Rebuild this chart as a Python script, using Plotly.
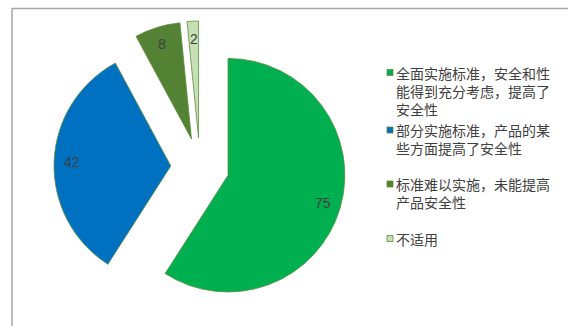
import math
import plotly.graph_objects as go

# --- data -------------------------------------------------------------
categories = [
    "全面实施标准，安全和性能得到充分考虑，提高了安全性",
    "部分实施标准，产品的某些方面提高了安全性",
    "标准难以实施，未能提高产品安全性",
    "不适用",
]
legend_lines = [
    ["全面实施标准，安全和性", "能得到充分考虑，提高了", "安全性"],
    ["部分实施标准，产品的某", "些方面提高了安全性"],
    ["标准难以实施，未能提高", "产品安全性"],
    ["不适用"],
]
values = [75, 42, 8, 2]
colors = ["#00B050", "#0070C0", "#548235", "#C5E0B4"]

# --- page geometry (pixels) -------------------------------------------
W, H = 568, 326
PULL = 0.25
CX, CY = 200, 167          # pie centre
BOX = 292                  # square box the pie (with pulls) must fit
R = BOX / 2 / (1 + PULL)   # slice radius as plotly computes it
TEXT = "#404040"
FS = 14
LINE_H = FS * 1.3          # plotly's multi-line spacing

fig = go.Figure()
fig.add_trace(go.Pie(
    labels=categories,
    values=values,
    sort=False,
    direction="clockwise",
    rotation=0,
    pull=[PULL] * len(values),
    marker=dict(colors=colors, line=dict(color="#5E8E3E", width=0.8)),
    textinfo="none",
    hoverinfo="label+value",
    showlegend=False,
    domain=dict(x=[(CX - 160) / W, (CX + 160) / W],
                y=[(H - CY - BOX / 2) / H, (H - CY + BOX / 2) / H]),
))

annotations = []
shapes = []

# value labels near the outer end of each slice
total = sum(values)
cum = 0
for v in values:
    mid = (cum + v / 2) / total * 2 * math.pi
    cum += v
    d = (PULL + 0.85) * R
    px = CX + d * math.sin(mid)
    py = CY - d * math.cos(mid)
    annotations.append(dict(
        x=px / W, y=1 - py / H, xref="paper", yref="paper",
        text=str(v), showarrow=False, xanchor="center", yanchor="middle",
        font=dict(family="Liberation Sans, Arial", size=14, color=TEXT),
    ))

# legend: small squares with wrapped Chinese labels
first_line_y = [72.5, 130, 184, 238.5]
for lines, col, y0 in zip(legend_lines, colors, first_line_y):
    shapes.append(dict(
        type="rect", xref="paper", yref="paper",
        x0=387 / W, x1=393 / W, y0=1 - (y0 - 3) / H, y1=1 - (y0 + 3) / H,
        fillcolor=col, line=dict(color="#5E8E3E", width=0.8),
    ))
    yc = y0 + (len(lines) - 1) * LINE_H / 2
    annotations.append(dict(
        x=394 / W, y=1 - yc / H, xref="paper", yref="paper",
        text="<br>".join(lines), showarrow=False, align="left",
        xanchor="left", yanchor="middle",
        font=dict(family="Noto Sans CJK SC", size=FS, color=TEXT),
    ))

# chart frame
shapes.append(dict(
    type="rect", xref="paper", yref="paper",
    x0=12 / W, x1=1.2, y0=-0.2, y1=1 - 8.5 / H,
    line=dict(color="#A6A6A6", width=1.5), fillcolor="rgba(0,0,0,0)",
    layer="below",
))

fig.update_layout(
    width=W, height=H,
    margin=dict(l=0, r=0, t=0, b=0),
    paper_bgcolor="white", plot_bgcolor="white",
    annotations=annotations, shapes=shapes,
)

fig.write_html("out.html")
